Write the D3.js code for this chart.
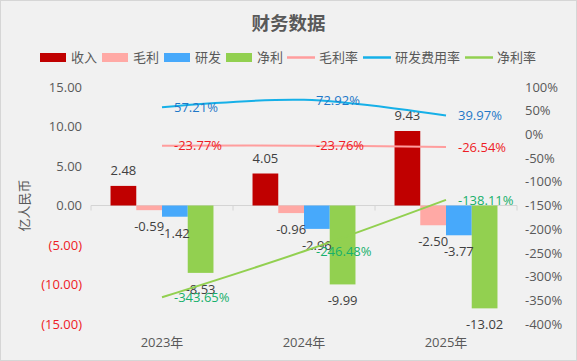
<!DOCTYPE html>
<html><head><meta charset="utf-8">
<script src="https://cdn.jsdelivr.net/npm/d3@7"></script>
<style>body{margin:0;padding:0;background:#fff}svg{display:block}</style>
</head><body>
<svg id="chart" width="577" height="361"></svg>
<script>
const categories = ["2023年", "2024年", "2025年"];
const revenue = [2.48, 4.05, 9.43];
const grossProfit = [-0.59, -0.96, -2.50];
const rnd = [-1.42, -2.96, -3.77];
const netProfit = [-8.53, -9.99, -13.02];
const grossMargin = [-23.77, -23.76, -26.54];
const rndRate = [57.21, 72.92, 39.97];
const netMargin = [-343.65, -246.48, -138.11];
const leftTicks = [15, 10, 5, 0, -5, -10, -15];
const rightTicks = [100, 50, 0, -50, -100, -150, -200, -250, -300, -350, -400];
const barNames = ["收入", "毛利", "研发", "净利"];
const lineNames = ["毛利率", "研发费用率", "净利率"];

const FONT = "'Open Sans','Noto Sans CJK SC',sans-serif";
const loc = d3.formatLocale({decimal: ".", thousands: ",", grouping: [3], currency: ["", ""], minus: "-"});
const f2 = loc.format(".2f");
const svg = d3.select("#chart");
svg.append("rect").attr("x",0.5).attr("y",0.5).attr("width",576).attr("height",360)
  .attr("fill","#f1f1f1").attr("stroke","#d6d6d6");

const L = 91, R = 517, T = 87, B = 324;
const x0 = d3.scaleBand().domain(categories).range([L, R]).padding(0);
const groupW = x0.bandwidth() * 0.725;
const x1 = d3.scaleBand().domain(barNames).range([0, groupW]).padding(0);
const yL = d3.scaleLinear().domain([-15, 15]).range([B, T]);
const yR = d3.scaleLinear().domain([-400, 100]).range([B, T]);

const barColors = ["#c00000", "#ffa9a5", "#47a9fb", "#92d050"];
const lineColors = ["#ff9d9d", "#16b0e8", "#92d050"];
const labelColors = ["#ee1c25", "#1f78c8", "#17b06b"];
const barSeries = [revenue, grossProfit, rnd, netProfit];
const lineSeries = [grossMargin, rndRate, netMargin];

// title
svg.append("text").attr("x", 288.5).attr("y", 30).attr("text-anchor","middle")
  .attr("font-family", FONT).attr("font-size", 18.5).attr("font-weight", "bold")
  .attr("fill", "#595959").text("财务数据");

// legend
const legendItems = [
  {name: barNames[0], type: "bar", color: barColors[0], x: 40},
  {name: barNames[1], type: "bar", color: barColors[1], x: 102},
  {name: barNames[2], type: "bar", color: barColors[2], x: 164},
  {name: barNames[3], type: "bar", color: barColors[3], x: 226},
  {name: lineNames[0], type: "line", color: lineColors[0], x: 287},
  {name: lineNames[1], type: "line", color: lineColors[1], x: 363},
  {name: lineNames[2], type: "line", color: lineColors[2], x: 465}
];
const lg = svg.append("g");
legendItems.forEach(it => {
  if (it.type === "bar") {
    lg.append("rect").attr("x", it.x).attr("y", 53).attr("width", 26).attr("height", 9).attr("fill", it.color);
  } else {
    lg.append("line").attr("x1", it.x).attr("x2", it.x + 28).attr("y1", 57.5).attr("y2", 57.5)
      .attr("stroke", it.color).attr("stroke-width", 2.5);
  }
  lg.append("text").attr("x", it.x + (it.type === "bar" ? 31 : 32)).attr("y", 62)
    .attr("font-family", FONT).attr("font-size", 13).attr("fill", "#595959").text(it.name);
});

// left axis
const axL = svg.append("g").attr("transform", `translate(${L},0)`)
  .call(d3.axisLeft(yL).tickValues(leftTicks).tickSize(0).tickPadding(9)
    .tickFormat(v => v < 0 ? "(" + f2(-v) + ")" : f2(v)));
axL.select(".domain").remove();
axL.selectAll("text").attr("font-family", FONT).attr("font-size", 13)
  .attr("fill", d => d < 0 ? "#ee1c25" : "#595959");

// right axis
const axR = svg.append("g").attr("transform", `translate(${R},0)`)
  .call(d3.axisRight(yR).tickValues(rightTicks).tickSize(0).tickPadding(8)
    .tickFormat(v => v + "%"));
axR.select(".domain").remove();
axR.selectAll("text").attr("font-family", FONT).attr("font-size", 13).attr("fill", "#595959");

// y title
svg.append("text").attr("transform", `translate(29,${(T + B) / 2}) rotate(-90)`)
  .attr("text-anchor", "middle").attr("font-family", FONT).attr("font-size", 13)
  .attr("fill", "#595959").text("亿人民币");

// category axis (line at zero)
const y0 = yL(0);
svg.append("line").attr("x1", L).attr("x2", R).attr("y1", y0).attr("y2", y0)
  .attr("stroke", "#d4d4d4").attr("stroke-width", 1);
const bounds = categories.map(c => x0(c)).concat([x0(categories[categories.length-1]) + x0.bandwidth()]);
bounds.forEach(b => {
  svg.append("line").attr("x1", b).attr("x2", b).attr("y1", y0).attr("y2", y0 + 5)
    .attr("stroke", "#d4d4d4");
});
svg.selectAll(".cat").data(categories).enter().append("text")
  .attr("x", d => x0(d) + x0.bandwidth() / 2).attr("y", 347)
  .attr("text-anchor", "middle").attr("font-family", FONT).attr("font-size", 13)
  .attr("fill", "#595959").text(d => d);

// bars
const off = (x0.bandwidth() - groupW) / 2;
barSeries.forEach((vals, si) => {
  const g = svg.append("g");
  vals.forEach((v, ci) => {
    const x = x0(categories[ci]) + off + x1(barNames[si]);
    g.append("rect").attr("x", x).attr("width", x1.bandwidth())
      .attr("y", Math.min(yL(v), y0)).attr("height", Math.abs(yL(v) - y0))
      .attr("fill", barColors[si]);
  });
});
// bar labels
barSeries.forEach((vals, si) => {
  vals.forEach((v, ci) => {
    const cx = x0(categories[ci]) + off + x1(barNames[si]) + x1.bandwidth() / 2;
    svg.append("text").attr("x", cx)
      .attr("y", v >= 0 ? yL(v) - 11 : yL(v) + 21)
      .attr("text-anchor", "middle").attr("font-family", FONT).attr("font-size", 13)
      .attr("fill", "#404040").text(f2(v));
  });
});

// lines
const cx = c => x0(c) + x0.bandwidth() / 2;
lineSeries.forEach((vals, si) => {
  const line = d3.line().x((d, i) => cx(categories[i])).y(d => yR(d)).curve(d3.curveCatmullRom.alpha(0.5));
  svg.append("path").datum(vals).attr("d", line).attr("fill", "none")
    .attr("stroke", lineColors[si]).attr("stroke-width", 2);
});
lineSeries.forEach((vals, si) => {
  vals.forEach((v, ci) => {
    svg.append("text").attr("x", cx(categories[ci]) + 12).attr("y", yR(v)).attr("dy", "0.36em")
      .attr("font-family", FONT).attr("font-size", 13).attr("fill", labelColors[si])
      .text(f2(v) + "%");
  });
});
</script>
</body></html>
